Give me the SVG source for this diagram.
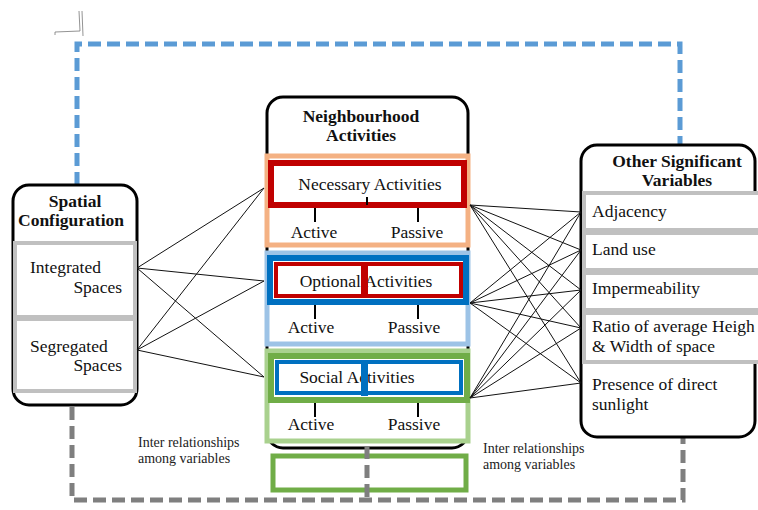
<svg xmlns="http://www.w3.org/2000/svg" width="758" height="510" viewBox="0 0 758 510">
<style>
  .t { font-family: "Liberation Serif", "DejaVu Serif", serif; font-size: 17.5px; fill: #111; }
  .h { font-family: "Liberation Serif", "DejaVu Serif", serif; font-size: 17.5px; font-weight: bold; fill: #111; }
  .s { font-family: "Liberation Serif", "DejaVu Serif", serif; font-size: 14px; fill: #222; }
  .frameBlue { fill: none; stroke: #5b9bd5; stroke-width: 5; stroke-dasharray: 13 6; }
  .frameGray { fill: none; stroke: #7f7f7f; stroke-width: 5; stroke-dasharray: 13 6; }
  .box { fill: #fff; stroke: #000; stroke-width: 3; }
  .row { fill: #fff; stroke: #c0c0c0; stroke-width: 4; }
  .tick { stroke: #000; stroke-width: 2; }
  .link { stroke: #111; stroke-width: 1; fill: none; }
</style>
<rect width="758" height="510" fill="#fff"/>
<!-- faint artifact -->
<path d="M 55 35 L 55 32 L 80 31 L 79 11 M 82 11 L 83 36" fill="none" stroke="#777" stroke-width="0.8"/>

<!-- frames -->
<g id="frames">
  <path class="frameBlue" d="M 77 185 L 77 44 L 680 44 L 680 145"/>
  <path class="frameGray" d="M 72 407 L 72 500 L 683 500 L 683 437"/>
</g>

<!-- spatial configuration -->
<g id="spatial">
  <rect class="box" x="13" y="185" width="124" height="220" rx="16"/>
  <text class="h" x="75" y="207" text-anchor="middle">Spatial</text>
  <text class="h" x="71" y="226" text-anchor="middle">Configuration</text>
  <rect class="row" x="15" y="243" width="120" height="74"/>
  <rect class="row" x="15" y="319" width="120" height="72"/>
  <text class="t" x="30" y="273">Integrated</text>
  <text class="t" x="122" y="293" text-anchor="end">Spaces</text>
  <text class="t" x="30" y="352">Segregated</text>
  <text class="t" x="122" y="371" text-anchor="end">Spaces</text>
</g>

<!-- neighbourhood activities -->
<g id="neighbourhood">
  <rect class="box" x="267" y="97" width="201" height="351" rx="16"/>
  <text class="h" x="361" y="122" text-anchor="middle">Neighbourhood</text>
  <text class="h" x="361" y="141" text-anchor="middle">Activities</text>
</g>

<g id="necessary">
  <rect x="267" y="156" width="201" height="89" fill="#fff" stroke="#f4b183" stroke-width="5"/>
  <rect x="271" y="163" width="193" height="42" fill="#fff" stroke="#c00000" stroke-width="6"/>
  <text class="t" x="370" y="190" text-anchor="middle">Necessary Activities</text>
  <line class="tick" x1="367" y1="197" x2="367" y2="205"/>
  <line class="tick" x1="315" y1="208" x2="315" y2="222"/>
  <line class="tick" x1="418" y1="208" x2="418" y2="222"/>
  <text class="t" x="314" y="238" text-anchor="middle">Active</text>
  <text class="t" x="417" y="238" text-anchor="middle">Passive</text>
</g>

<g id="optional">
  <rect x="267" y="253" width="201" height="91" fill="#fff" stroke="#9dc3e6" stroke-width="5"/>
  <rect x="270" y="258" width="196" height="44" fill="#fff" stroke="#0070c0" stroke-width="6"/>
  <rect x="276" y="264" width="185" height="32" fill="#fff" stroke="#c00000" stroke-width="4"/>
  <text class="t" x="366" y="287" text-anchor="middle">Optional Activities</text>
  <rect x="361" y="262" width="7" height="36" fill="#c00000"/>
  <line class="tick" x1="315" y1="305" x2="315" y2="319"/>
  <line class="tick" x1="418" y1="305" x2="418" y2="319"/>
  <text class="t" x="311" y="333" text-anchor="middle">Active</text>
  <text class="t" x="414" y="333" text-anchor="middle">Passive</text>
</g>

<g id="social">
  <rect x="267" y="351" width="201" height="90" fill="#fff" stroke="#a9d18e" stroke-width="5"/>
  <rect x="271" y="356" width="196" height="44" fill="#fff" stroke="#70ad47" stroke-width="6"/>
  <rect x="277" y="362" width="184" height="31" fill="#fff" stroke="#0070c0" stroke-width="4"/>
  <text class="t" x="357" y="383" text-anchor="middle">Social Activities</text>
  <rect x="361" y="360" width="7" height="36" fill="#0070c0"/>
  <line class="tick" x1="315" y1="403" x2="315" y2="417"/>
  <line class="tick" x1="418" y1="403" x2="418" y2="417"/>
  <text class="t" x="311" y="430" text-anchor="middle">Active</text>
  <text class="t" x="414" y="430" text-anchor="middle">Passive</text>
</g>

<g id="bottom-boxes">
  <rect x="273" y="456" width="193" height="34" fill="#fff" stroke="#70ad47" stroke-width="5"/>
  <line x1="367" y1="446" x2="367" y2="500" stroke="#7f7f7f" stroke-width="5" stroke-dasharray="13 6"/>
</g>

<!-- other significant variables -->
<g id="other">
  <rect class="box" x="581" y="145" width="174" height="292" rx="16"/>
  <text class="h" x="677" y="167" text-anchor="middle">Other Significant</text>
  <text class="h" x="677" y="186" text-anchor="middle">Variables</text>
  <rect class="row" x="584" y="193" width="178" height="37"/>
  <rect class="row" x="584" y="233" width="178" height="37"/>
  <rect class="row" x="584" y="273" width="178" height="37"/>
  <rect class="row" x="584" y="313" width="178" height="49"/>
  <text class="t" x="592" y="217">Adjacency</text>
  <text class="t" x="592" y="255">Land use</text>
  <text class="t" x="592" y="294">Impermeability</text>
  <text class="t" x="592" y="332">Ratio of average Heigh</text>
  <text class="t" x="592" y="352">&amp; Width of space</text>
  <text class="t" x="592" y="390">Presence of direct</text>
  <text class="t" x="592" y="410">sunlight</text>
</g>

<!-- labels -->
<g id="labels">
  <text class="s" x="138" y="447">Inter relationships</text>
  <text class="s" x="138" y="463">among variables</text>
  <text class="s" x="483" y="453">Inter relationships</text>
  <text class="s" x="483" y="469">among variables</text>
</g>

<!-- connectors -->
<g id="connectors">
  <line class="link" x1="137" y1="268" x2="264" y2="188"/>
  <line class="link" x1="137" y1="268" x2="264" y2="281"/>
  <line class="link" x1="137" y1="268" x2="264" y2="377"/>
  <line class="link" x1="137" y1="350" x2="264" y2="188"/>
  <line class="link" x1="137" y1="350" x2="264" y2="281"/>
  <line class="link" x1="137" y1="350" x2="264" y2="377"/>

  <line class="link" x1="470" y1="205" x2="581" y2="212"/>
  <line class="link" x1="470" y1="205" x2="581" y2="250"/>
  <line class="link" x1="470" y1="205" x2="581" y2="290"/>
  <line class="link" x1="470" y1="205" x2="581" y2="328"/>
  <line class="link" x1="470" y1="205" x2="581" y2="383"/>
  <line class="link" x1="470" y1="303" x2="581" y2="212"/>
  <line class="link" x1="470" y1="303" x2="581" y2="250"/>
  <line class="link" x1="470" y1="303" x2="581" y2="290"/>
  <line class="link" x1="470" y1="303" x2="581" y2="328"/>
  <line class="link" x1="470" y1="303" x2="581" y2="383"/>
  <line class="link" x1="470" y1="398" x2="581" y2="212"/>
  <line class="link" x1="470" y1="398" x2="581" y2="250"/>
  <line class="link" x1="470" y1="398" x2="581" y2="290"/>
  <line class="link" x1="470" y1="398" x2="581" y2="328"/>
  <line class="link" x1="470" y1="398" x2="581" y2="383"/>
</g>
</svg>
